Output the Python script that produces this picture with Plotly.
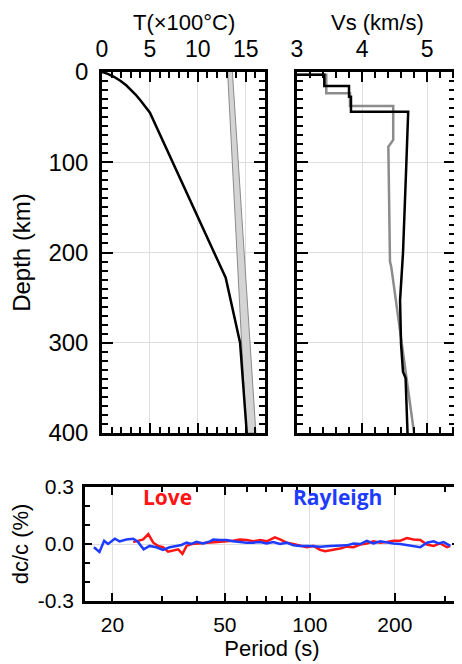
import plotly.graph_objects as go

# ---------------- data ----------------
# Temperature profile (x100 C) vs depth (km)
geo_depth = [0, 2, 5, 10, 15, 20, 25, 30, 35, 40, 45, 228, 300, 400]
geo_temp = [0, 0.6, 1.2, 1.95, 2.55, 3.05, 3.5, 3.9, 4.3, 4.65, 5.0, 12.9, 14.4, 15.1]

# Adiabat band edges (x100 C)
band_depth = [0, 400]
band_left = [13.1, 15.05]
band_right = [13.6, 16.05]

# Vs profiles (km/s)
vs_black_depth = [3, 3, 15.5, 15.5, 27.3, 27.3, 44, 44, 105, 164, 201, 253, 301, 332, 339, 400]
vs_black = [3.0, 3.42, 3.42, 3.80, 3.80, 3.83, 3.83, 4.71, 4.68, 4.65, 4.63, 4.585, 4.60, 4.63, 4.67, 4.70]

vs_gray_depth = [3, 3, 23.6, 23.6, 37.7, 37.7, 75.3, 82.7, 210, 216, 400]
vs_gray = [3.0, 3.45, 3.45, 3.815, 3.815, 4.48, 4.48, 4.405, 4.43, 4.45, 4.80]

# Phase velocity perturbations dc/c (%)
ray_period = [17.2, 18.0, 18.7, 19.3, 20.4, 21.2, 22.4, 23.7, 24.6, 25.8, 27.1, 28.6, 30.2, 31.9,
              33.7, 35.1, 36.6, 38.1, 39.7, 41.9, 44.3, 45.5, 48.0, 50.7, 53.5, 56.5, 59.7, 63.0,
              66.6, 70.3, 74.2, 78.4, 82.8, 87.4, 92.3, 100.2, 108.7, 117.9, 127.9, 135.1, 142.7,
              150.7, 159.1, 168.0, 177.4, 187.4, 197.8, 208.9, 220.6, 232.8, 246.0, 259.8, 274.2,
              285.6, 297.5, 314.2]
ray_dcc = [-0.017, -0.042, 0.017, 0.0, 0.028, 0.014, 0.024, 0.028, 0.012, -0.028, -0.010, -0.017,
           -0.031, -0.017, -0.010, -0.005, 0.007, 0.0, 0.012, 0.003, 0.014, 0.024, 0.021, 0.021,
           0.014, 0.010, 0.007, 0.007, 0.010, 0.003, 0.010, 0.0, 0.007, -0.007, -0.010, -0.010,
           -0.014, -0.010, -0.010, -0.007, 0.003, 0.0, 0.017, 0.003, 0.014, 0.007, 0.003, 0.0,
           -0.007, -0.010, -0.017, 0.007, 0.014, 0.003, 0.010, -0.010]

love_period = [23.7, 25.7, 26.8, 27.9, 29.0, 30.2, 31.5, 32.8, 34.2, 35.4, 36.6, 38.1, 40.8, 43.0,
               46.8, 50.7, 53.5, 56.5, 59.7, 63.0, 66.6, 70.3, 75.2, 78.4, 82.8, 87.4, 92.3, 97.5,
               102.9, 108.7, 113.2, 121.2, 127.9, 135.1, 142.7, 150.7, 159.1, 168.0, 177.4, 187.4,
               197.8, 208.9, 220.6, 232.8, 246.0, 259.8, 274.2, 289.4, 305.8, 314.2]
love_dcc = [0.010, 0.024, 0.052, 0.007, -0.010, -0.017, -0.040, -0.035, -0.028, -0.052, -0.010,
            0.0, 0.003, 0.007, 0.010, 0.014, 0.017, 0.024, 0.021, 0.014, 0.021, 0.014, 0.035,
            0.024, 0.007, 0.0, -0.007, -0.017, -0.010, -0.031, -0.038, -0.031, -0.024, -0.014,
            -0.017, -0.003, 0.003, 0.014, 0.007, 0.010, 0.017, 0.017, 0.031, 0.024, 0.021,
            -0.003, -0.010, 0.003, -0.017, -0.010]

temp_ticks = [0, 5, 10, 15]
vs_ticks = [3, 4, 5]
depth_ticks = [0, 100, 200, 300, 400]
period_ticks = [20, 50, 100, 200]
period_minor = [30, 40, 60, 70, 80, 90, 300]
dcc_ticks = [0.3, 0.0, -0.3]
dcc_ticklabels = ["0.3", "0.0", "-0.3"]

# ---------------- figure ----------------
FONT = "Liberation Sans, Arial, Helvetica, sans-serif"
fig = go.Figure()

# adiabat band
fig.add_trace(go.Scatter(
    x=band_left + band_right[::-1], y=band_depth + band_depth[::-1],
    mode="lines", fill="toself", fillcolor="#d4d4d4",
    line=dict(color="#8a8a8a", width=1), xaxis="x", yaxis="y", showlegend=False))
fig.add_trace(go.Scatter(x=geo_temp, y=geo_depth, mode="lines",
                         line=dict(color="black", width=2.5), xaxis="x", yaxis="y", showlegend=False))

fig.add_trace(go.Scatter(x=vs_gray, y=vs_gray_depth, mode="lines",
                         line=dict(color="#8c8c8c", width=2.5), xaxis="x2", yaxis="y2", showlegend=False))
fig.add_trace(go.Scatter(x=vs_black, y=vs_black_depth, mode="lines",
                         line=dict(color="black", width=2.5), xaxis="x2", yaxis="y2", showlegend=False))

fig.add_trace(go.Scatter(x=love_period, y=love_dcc, mode="lines",
                         line=dict(color="#ff1414", width=2.5), xaxis="x3", yaxis="y3", showlegend=False))
fig.add_trace(go.Scatter(x=ray_period, y=ray_dcc, mode="lines",
                         line=dict(color="#1e3cff", width=2.5), xaxis="x3", yaxis="y3", showlegend=False))

# page body has an 8px margin: figure pixel = screen pixel - 8
OFF = 8
W, H = 462 - OFF, 664 - OFF
def xd(a, b):
    return [(a - OFF) / W, (b - OFF) / W]
def yd(top, bot):
    return [1 - (bot - OFF) / H, 1 - (top - OFF) / H]
def px(x):
    return (x - OFF) / W
def py(y):
    return 1 - (y - OFF) / H

common = dict(showline=True, linewidth=2.5, linecolor="black", mirror="ticks",
              ticks="inside", tickwidth=1.8, tickcolor="black", automargin=False,
              showgrid=True, gridcolor="#dedede", gridwidth=1, zeroline=False)

big = dict(family=FONT, size=24, color="black")
topt = dict(family=FONT, size=23, color="black")
ttl = dict(family=FONT, size=22, color="black")
small = dict(family=FONT, size=21, color="black")

fig.update_layout(
    width=W, height=H, margin=dict(l=0, r=0, t=0, b=0),
    paper_bgcolor="white", plot_bgcolor="white",
    font=dict(family=FONT, color="black"),
    xaxis=dict(domain=xd(102, 265), anchor="y", side="top", range=[0, 17],
               tickmode="array", tickvals=temp_ticks, ticklen=10, tickfont=topt,
               ticklabelstandoff=3,
               minor=dict(dtick=1, tick0=0, ticklen=6, tickwidth=1.8, tickcolor="black", ticks="inside", showgrid=False),
               **common),
    yaxis=dict(domain=yd(72, 433), anchor="x", range=[400, 0],
               tickmode="array", tickvals=depth_ticks, ticklen=11, tickfont=big,
               ticklabelstandoff=6,
               minor=dict(dtick=10, tick0=0, ticklen=6, tickwidth=1.8, tickcolor="black", ticks="inside", showgrid=False),
               title=dict(text="Depth (km)", font=big, standoff=12), **common),
    xaxis2=dict(domain=xd(297, 455), anchor="y2", side="top", range=[3, 5.43],
                tickmode="array", tickvals=vs_ticks, ticklen=10, tickfont=topt,
                ticklabelstandoff=3,
                minor=dict(dtick=0.2, tick0=3, ticklen=6, tickwidth=1.8, tickcolor="black", ticks="inside", showgrid=False),
                **common),
    yaxis2=dict(domain=yd(72, 433), anchor="x2", range=[400, 0],
                tickmode="array", tickvals=depth_ticks, ticklen=11, showticklabels=False,
                minor=dict(dtick=10, tick0=0, ticklen=6, tickwidth=1.8, tickcolor="black", ticks="inside", showgrid=False),
                **common),
    xaxis3=dict(domain=xd(85, 459), anchor="y3", type="log", range=[1.204, 2.528],
                tickmode="array", tickvals=period_ticks, ticktext=[str(v) for v in period_ticks],
                ticklen=8, tickfont=small, ticklabelstandoff=3,
                minor=dict(tickvals=period_minor, ticklen=5, tickwidth=1.8, tickcolor="black", ticks="inside", showgrid=False),
                title=dict(text="Period (s)", font=dict(family=FONT, size=22, color="black"), standoff=6),
                **common),
    yaxis3=dict(domain=yd(487, 601), anchor="x3", range=[-0.3, 0.3],
                tickmode="array", tickvals=dcc_ticks, ticktext=dcc_ticklabels,
                ticklen=7, tickfont=small, ticklabelstandoff=4,
                minor=dict(dtick=0.1, tick0=0, ticklen=5, tickwidth=1.8, tickcolor="black", ticks="inside", showgrid=False),
                title=dict(text="dc/c (%)", font=dict(family=FONT, size=22, color="black"), standoff=4),
                **common),
    annotations=[
        dict(text="T(×100°C)", xref="paper", yref="paper", x=px(184), y=1.0,
             xanchor="center", yanchor="top", showarrow=False, font=ttl),
        dict(text="Vs (km/s)", xref="paper", yref="paper", x=px(377), y=1.0,
             xanchor="center", yanchor="top", showarrow=False, font=ttl),
        dict(text="<b>Love</b>", xref="paper", yref="paper", x=px(141), y=py(513),
             showarrow=False, font=dict(family="Open Sans, sans-serif", size=21, color="#ff1414")),
        dict(text="<b>Rayleigh</b>", xref="paper", yref="paper", x=px(384), y=py(513),
             showarrow=False, font=dict(family="Open Sans, sans-serif", size=21, color="#1e3cff")),
    ],
)

fig.write_html("out.html")
